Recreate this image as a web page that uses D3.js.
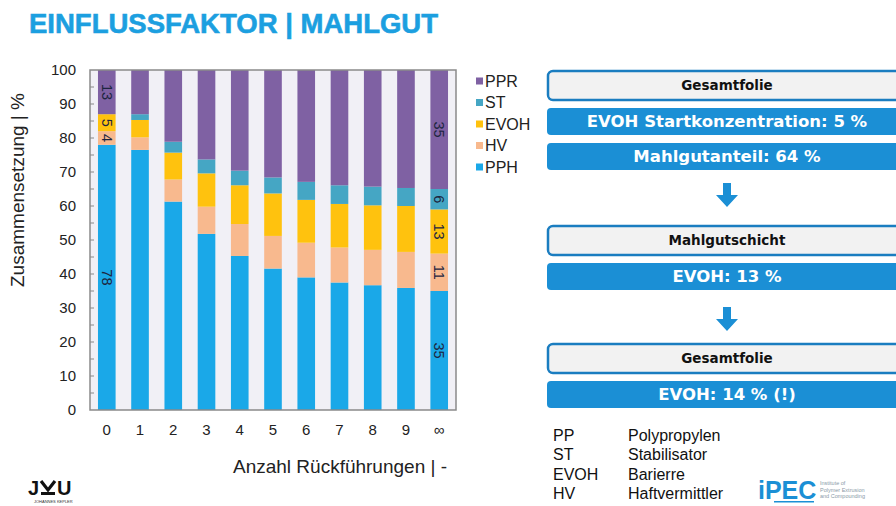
<!DOCTYPE html>
<html>
<head>
<meta charset="utf-8">
<script src="https://cdn.jsdelivr.net/npm/d3@7"></script>
<style>
  body { margin: 0; background: #fff; }
  svg { display: block; font-family: "Liberation Sans", Arial, sans-serif; }
</style>
</head>
<body>
<svg id="chart" width="896" height="506"></svg>
<script>
// chart data
const categories = ['0', '1', '2', '3', '4', '5', '6', '7', '8', '9', '∞'];
const seriesNames = ['PPH', 'HV', 'EVOH', 'ST', 'PPR'];
const PPH = [78, 76.5, 61.3, 51.8, 45.3, 41.6, 39.0, 37.5, 36.7, 35.9, 35];
const HV = [4, 3.7, 6.5, 8.0, 9.4, 9.6, 10.2, 10.3, 10.4, 10.6, 11];
const EVOH = [5, 5.1, 7.9, 9.8, 11.4, 12.5, 12.6, 12.8, 13.1, 13.5, 13];
const ST = [0, 1.7, 3.2, 4.1, 4.3, 4.7, 5.3, 5.5, 5.5, 5.3, 6];
const PPR = [13, 13, 21.1, 26.3, 29.6, 31.6, 32.9, 33.9, 34.3, 34.7, 35];
const labelledBars = ['0', '∞'];
const yTicks = [0, 10, 20, 30, 40, 50, 60, 70, 80, 90, 100];

const boxTexts = [
  { text: 'Gesamtfolie', kind: 'head' },
  { text: 'EVOH Startkonzentration: 5 %', kind: 'value' },
  { text: 'Mahlgutanteil: 64 %', kind: 'value' },
  { kind: 'arrow' },
  { text: 'Mahlgutschicht', kind: 'head' },
  { text: 'EVOH: 13 %', kind: 'value' },
  { kind: 'arrow' },
  { text: 'Gesamtfolie', kind: 'head' },
  { text: 'EVOH: 14 % (!)', kind: 'value' },
];
const abbrevs = [['PP', 'Polypropylen'], ['ST', 'Stabilisator'], ['EVOH', 'Barierre'], ['HV', 'Haftvermittler']];

const colors = { PPH: '#1aa8e8', HV: '#f8b98e', EVOH: '#ffc20e', ST: '#45a6c4', PPR: '#7f61a3' };

const svg = d3.select('#chart');
const margin = { left: 90, right: 456, top: 70, bottom: 410 };

// title
svg.append('text')
  .attr('x', 29).attr('y', 33)
  .attr('font-size', 27.5).attr('font-weight', 'bold')
  .attr('fill', '#1c9fe0')
  .attr('stroke', '#1c9fe0').attr('stroke-width', 0.6)
  .text('EINFLUSSFAKTOR | MAHLGUT');

const table = categories.map((c, i) => ({ cat: c, PPH: PPH[i], HV: HV[i], EVOH: EVOH[i], ST: ST[i], PPR: PPR[i] }));
const stacked = d3.stack().keys(seriesNames)(table);

const x = d3.scaleBand().domain(categories)
  .range([margin.left, margin.right])
  .paddingInner(0.47).paddingOuter(0.24);
const y = d3.scaleLinear().domain([0, 100]).range([margin.bottom, margin.top]);

// plot background
svg.append('rect')
  .attr('x', margin.left).attr('y', margin.top)
  .attr('width', margin.right - margin.left).attr('height', margin.bottom - margin.top)
  .attr('fill', '#f1f0f6');

const layers = svg.append('g').selectAll('g')
  .data(stacked)
  .join('g')
  .attr('fill', (d) => colors[d.key]);

layers.selectAll('rect')
  .data((d) => d)
  .join('rect')
  .attr('x', (d) => x(d.data.cat))
  .attr('width', x.bandwidth())
  .attr('y', (d) => y(d[1]))
  .attr('height', (d) => y(d[0]) - y(d[1]));

// data labels (rotated)
stacked.forEach((layer) => {
  layer.forEach((d) => {
    const v = d[1] - d[0];
    if (!labelledBars.includes(d.data.cat) || v <= 0) return;
    const cx = x(d.data.cat) + x.bandwidth() / 2;
    const cy = y((d[0] + d[1]) / 2);
    svg.append('text')
      .attr('transform', `translate(${cx},${cy}) rotate(90)`)
      .attr('text-anchor', 'middle')
      .attr('dy', '0.35em')
      .attr('font-size', 14.5)
      .attr('fill', '#1d2540')
      .text(Math.round(v));
  });
});

// axes
const yAxis = svg.append('g')
  .attr('transform', `translate(${margin.left},0)`)
  .call(d3.axisLeft(y).tickValues(yTicks).tickSize(0).tickPadding(14));
yAxis.select('.domain').remove();
yAxis.selectAll('text').attr('font-size', 15).attr('fill', '#222').attr('font-family', 'Liberation Sans, Arial, sans-serif');

// inner minor ticks
svg.append('g').selectAll('line')
  .data(d3.range(5, 100, 5))
  .join('line')
  .attr('x1', margin.left).attr('x2', margin.left + 4)
  .attr('y1', (d) => y(d)).attr('y2', (d) => y(d))
  .attr('stroke', '#888').attr('stroke-width', 1);

const xAxis = svg.append('g')
  .attr('transform', `translate(0,${margin.bottom})`)
  .call(d3.axisBottom(x).tickSize(0).tickPadding(14));
xAxis.select('.domain').remove();
xAxis.selectAll('text').attr('font-size', 15).attr('fill', '#222').attr('font-family', 'Liberation Sans, Arial, sans-serif');

// plot frame
svg.append('rect')
  .attr('x', margin.left).attr('y', margin.top)
  .attr('width', margin.right - margin.left).attr('height', margin.bottom - margin.top)
  .attr('fill', 'none').attr('stroke', '#8a8a8a').attr('stroke-width', 1.5);

// axis titles
svg.append('text')
  .attr('transform', 'translate(24,190) rotate(-90)')
  .attr('text-anchor', 'middle')
  .attr('font-size', 19).attr('fill', '#222')
  .text('Zusammensetzung | %');

svg.append('text')
  .attr('x', 340).attr('y', 473)
  .attr('text-anchor', 'middle')
  .attr('font-size', 19).attr('fill', '#222')
  .text('Anzahl Rückführungen | -');

// legend (reverse order)
const legend = svg.append('g').selectAll('g')
  .data(seriesNames.slice().reverse())
  .join('g')
  .attr('transform', (d, i) => `translate(476,${81 + i * 21.5})`);
legend.append('rect')
  .attr('x', 0).attr('y', -3.5).attr('width', 7).attr('height', 7)
  .attr('fill', (d) => colors[d]);
legend.append('text')
  .attr('x', 9).attr('dy', '0.35em')
  .attr('font-size', 16).attr('fill', '#222')
  .text((d) => d);

// flow boxes on the right
const boxY = [71, 108, 143, 183, 226, 263, 307, 344, 381];
const flow = svg.append('g');
boxTexts.forEach((b, i) => {
  const top = boxY[i];
  if (b.kind === 'arrow') {
    const cx = 727;
    flow.append('path')
      .attr('d', `M${cx - 4},${top} H${cx + 4} V${top + 12} H${cx + 11} L${cx},${top + 24} L${cx - 11},${top + 12} H${cx - 4} Z`)
      .attr('fill', '#1b8fd5');
    return;
  }
  if (b.kind === 'head') {
    flow.append('rect')
      .attr('x', 548).attr('y', top).attr('width', 360).attr('height', 29)
      .attr('rx', 5)
      .attr('fill', '#f2f2f2').attr('stroke', '#1a7dc0').attr('stroke-width', 2.5);
    flow.append('text')
      .attr('x', 727).attr('y', top + 14.5).attr('dy', '0.35em')
      .attr('text-anchor', 'middle')
      .attr('font-family', 'DejaVu Sans, Verdana, sans-serif')
      .attr('font-weight', 'bold').attr('font-size', 13.5).attr('fill', '#111')
      .text(b.text);
  } else {
    flow.append('rect')
      .attr('x', 547).attr('y', top).attr('width', 360).attr('height', 27)
      .attr('rx', 4)
      .attr('fill', '#1b8fd5');
    flow.append('text')
      .attr('x', 727).attr('y', top + 13.5).attr('dy', '0.35em')
      .attr('text-anchor', 'middle')
      .attr('font-family', 'DejaVu Sans, Verdana, sans-serif')
      .attr('font-weight', 'bold').attr('font-size', 16.5).attr('fill', '#fff')
      .text(b.text);
  }
});

// abbreviations
const abbr = svg.append('g').selectAll('g')
  .data(abbrevs)
  .join('g')
  .attr('transform', (d, i) => `translate(553,${441 + i * 19.3})`)
  .attr('font-size', 16).attr('fill', '#111');
abbr.append('text').text((d) => d[0]);
abbr.append('text').attr('x', 75).text((d) => d[1]);

// JKU logo
const jku = svg.append('g').attr('transform', 'translate(28,478)');
jku.append('text').attr('x', 0).attr('y', 17).attr('font-size', 20).attr('font-weight', 'bold').attr('fill', '#111').text('J');
jku.append('path').attr('d', 'M13,3 L20,12 L27,3').attr('fill', 'none').attr('stroke', '#111').attr('stroke-width', 3.2);
jku.append('rect').attr('x', 13).attr('y', 14).attr('width', 14).attr('height', 3).attr('fill', '#111');
jku.append('text').attr('x', 29).attr('y', 17).attr('font-size', 20).attr('font-weight', 'bold').attr('fill', '#111').text('U');
jku.append('text').attr('x', 6).attr('y', 25).attr('font-size', 4).attr('fill', '#333').text('JOHANNES KEPLER');

// iPEC logo
const ipec = svg.append('g').attr('transform', 'translate(758,479)');
ipec.append('text').attr('x', 0).attr('y', 20).attr('font-size', 25).attr('font-weight', 'bold').attr('fill', '#1b8fd5').text('iPEC');
ipec.append('rect').attr('x', 16).attr('y', 22).attr('width', 40).attr('height', 1.5).attr('fill', '#1b8fd5');
['Institute of', 'Polymer Extrusion', 'and Compounding'].forEach((t, i) => {
  ipec.append('text').attr('x', 62).attr('y', 6 + i * 6.5).attr('font-size', 5.5).attr('fill', '#8a9aa8').text(t);
});
</script>
</body>
</html>
